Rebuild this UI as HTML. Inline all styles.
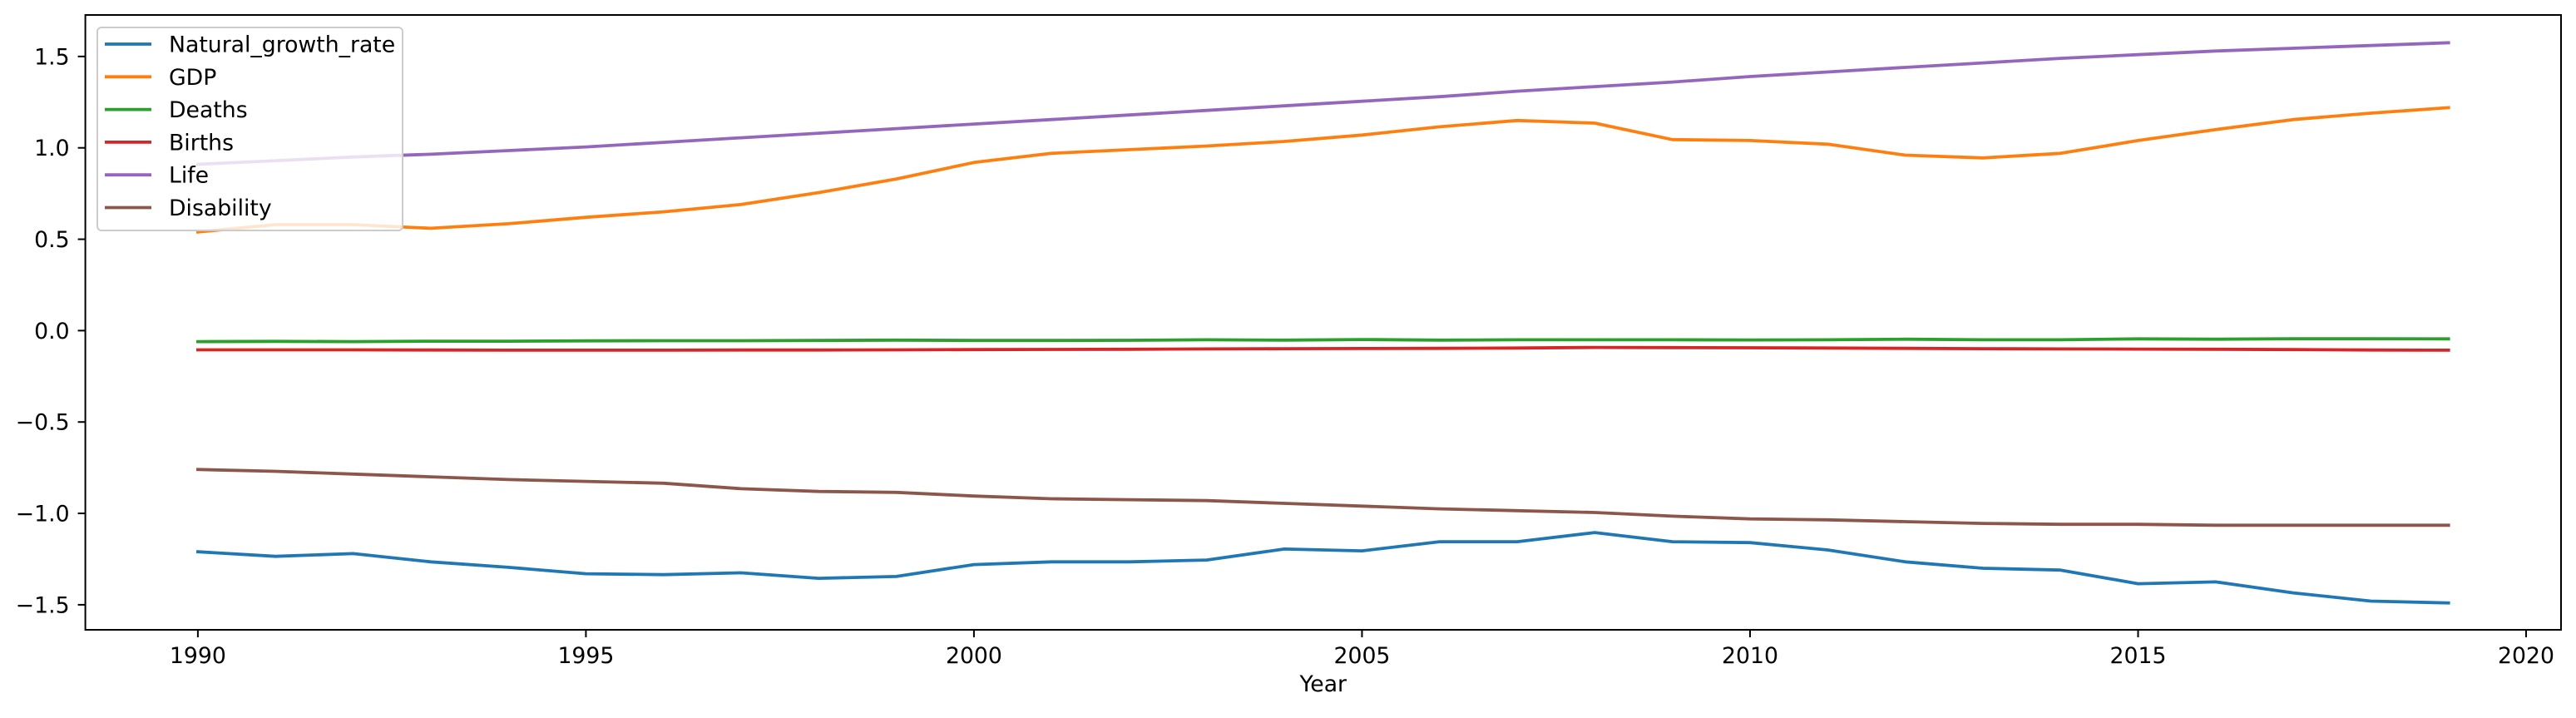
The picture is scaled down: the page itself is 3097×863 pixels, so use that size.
<!DOCTYPE html>
<html><head><meta charset="utf-8"><style>
html,body{margin:0;padding:0;background:#fff;}
svg text{font-family:"DejaVu Sans","Liberation Sans",sans-serif;font-size:26.7px;fill:#000;}
</style></head><body>
<svg id="chart" width="3097" height="858" viewBox="0 0 3097 858" xmlns="http://www.w3.org/2000/svg">
<g id="plot"></g>
<g id="axes"></g>
<g id="legend"></g>
</svg>
<script>
const years = [1990,1991,1992,1993,1994,1995,1996,1997,1998,1999,2000,2001,2002,2003,2004,2005,2006,2007,2008,2009,2010,2011,2012,2013,2014,2015,2016,2017,2018,2019];
const naturalGrowth = [-1.21,-1.235,-1.22,-1.265,-1.295,-1.33,-1.335,-1.325,-1.355,-1.345,-1.28,-1.265,-1.265,-1.255,-1.195,-1.205,-1.155,-1.155,-1.105,-1.155,-1.16,-1.20,-1.265,-1.30,-1.31,-1.385,-1.375,-1.435,-1.48,-1.49];
const gdp = [0.54,0.58,0.58,0.56,0.585,0.62,0.65,0.69,0.755,0.83,0.92,0.97,0.99,1.01,1.035,1.07,1.115,1.15,1.135,1.045,1.04,1.02,0.96,0.945,0.97,1.04,1.10,1.155,1.19,1.22];
const deaths = [-0.06,-0.059,-0.06,-0.058,-0.058,-0.056,-0.055,-0.055,-0.054,-0.052,-0.054,-0.054,-0.053,-0.05,-0.052,-0.049,-0.052,-0.05,-0.05,-0.05,-0.051,-0.05,-0.047,-0.05,-0.05,-0.045,-0.047,-0.044,-0.044,-0.045];
const births = [-0.105,-0.105,-0.105,-0.106,-0.107,-0.107,-0.107,-0.106,-0.106,-0.105,-0.104,-0.103,-0.102,-0.1,-0.099,-0.098,-0.097,-0.095,-0.092,-0.093,-0.094,-0.095,-0.097,-0.099,-0.1,-0.101,-0.102,-0.104,-0.106,-0.107];
const life = [0.91,0.93,0.95,0.965,0.985,1.005,1.03,1.055,1.08,1.105,1.13,1.155,1.18,1.205,1.23,1.255,1.28,1.31,1.335,1.36,1.39,1.415,1.44,1.465,1.49,1.51,1.53,1.545,1.56,1.575];
const disability = [-0.76,-0.77,-0.785,-0.80,-0.815,-0.825,-0.835,-0.865,-0.88,-0.885,-0.905,-0.92,-0.925,-0.93,-0.945,-0.96,-0.975,-0.985,-0.995,-1.015,-1.03,-1.035,-1.045,-1.055,-1.06,-1.06,-1.065,-1.065,-1.065,-1.065];
const seriesNames = ["Natural_growth_rate","GDP","Deaths","Births","Life","Disability"];
const seriesColors = ["#1f77b4","#ff7f0e","#2ca02c","#d62728","#9467bd","#8c564b"];
const xTicks = [1990,1995,2000,2005,2010,2015,2020];
const yTicks = [-1.5,-1.0,-0.5,0.0,0.5,1.0,1.5];
const yTickLabels = ["\u22121.5","\u22121.0","\u22120.5","0.0","0.5","1.0","1.5"];

const L=102.6,R=3079,T=18,B=757;
const xMin=1988.55,xMax=2020.45,yMin=-1.637,yMax=1.727;
const sx=v=>L+(v-xMin)/(xMax-xMin)*(R-L);
const sy=v=>B-(v-yMin)/(yMax-yMin)*(B-T);
const NS="http://www.w3.org/2000/svg";
function mk(tag,attrs,parent){const e=document.createElementNS(NS,tag);for(const k in attrs)e.setAttribute(k,attrs[k]);parent.appendChild(e);return e;}

const plot=document.getElementById('plot');
const allSeries=[naturalGrowth,gdp,deaths,births,life,disability];
allSeries.forEach((s,i)=>{
  const d=s.map((v,j)=>(j?'L':'M')+sx(years[j]).toFixed(1)+','+sy(v).toFixed(1)).join(' ');
  const p=mk('path',{d:d,fill:'none',stroke:seriesColors[i],'stroke-width':3.8,'stroke-linejoin':'round','stroke-linecap':'square'},plot);
  
  
});

const axes=document.getElementById('axes');
const frame=mk('rect',{x:L,y:T,width:R-L,height:B-T,fill:'none',stroke:'#000','stroke-width':2},axes);


xTicks.forEach(t=>{
  const x=sx(t);
  const tk=mk('line',{x1:x,x2:x,y1:B,y2:B+9,stroke:'#000','stroke-width':2},axes);
  
  
  const tx=mk('text',{x:x,y:B+40,'text-anchor':'middle'},axes);
  tx.textContent=t;
  
  
});
yTicks.forEach((t,i)=>{
  const y=sy(t);
  const tk=mk('line',{x1:L-9,x2:L,y1:y,y2:y,stroke:'#000','stroke-width':2},axes);
  
  
  const tx=mk('text',{x:L-19,y:y+9.5,'text-anchor':'end'},axes);
  tx.textContent=yTickLabels[i];
  
  
});
const xl=mk('text',{x:(L+R)/2,y:831,'text-anchor':'middle'},axes);
xl.textContent='Year';



const leg=document.getElementById('legend');
const lb=mk('rect',{x:117,y:33,width:367,height:244,rx:5,fill:'#fff','fill-opacity':0.8,stroke:'#cccccc','stroke-width':2},leg);


seriesNames.forEach((n,i)=>{
  const y=53+i*39.3;
  const g=mk('g',{},leg);
  
  
  mk('line',{x1:126,x2:182,y1:y,y2:y,stroke:seriesColors[i],'stroke-width':3.8},g);
  const t=mk('text',{x:203,y:y+9.5},g);
  t.textContent=n;
});
</script>
</body></html>
